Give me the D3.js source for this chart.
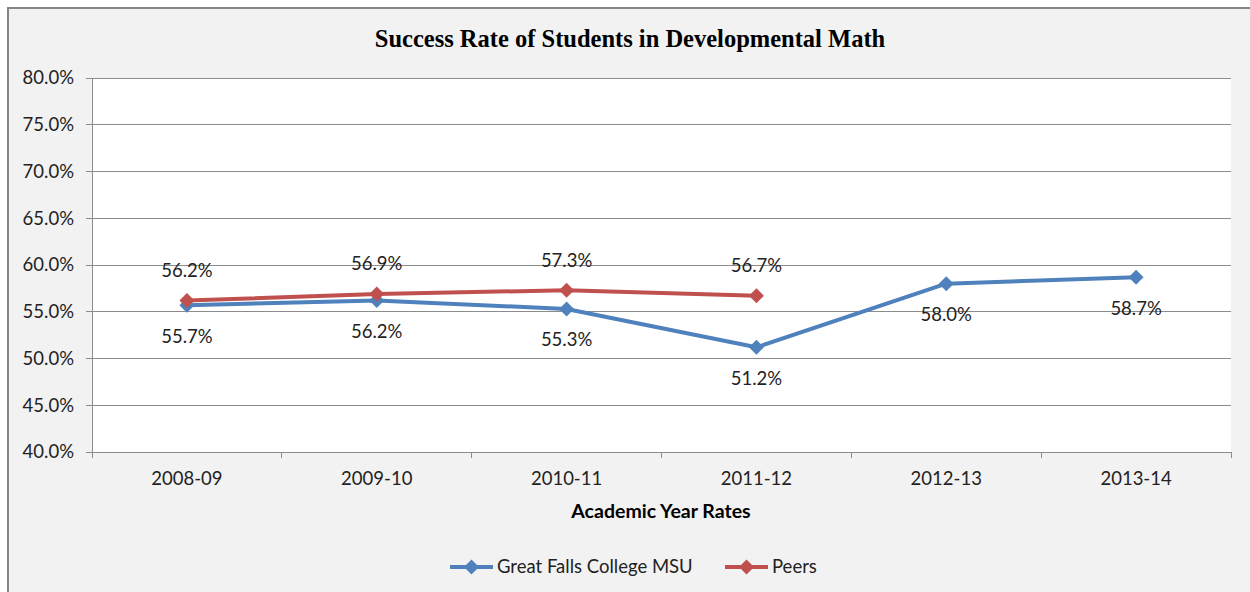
<!DOCTYPE html>
<html><head><meta charset="utf-8">
<script src="https://cdn.jsdelivr.net/npm/d3@7"></script>
<style>body{margin:0;background:#fff}svg{display:block}</style>
</head><body>
<script>
const categories = ["2008-09","2009-10","2010-11","2011-12","2012-13","2013-14"];
const gfcValues = [55.7, 56.2, 55.3, 51.2, 58.0, 58.7];
const peerValues = [56.2, 56.9, 57.3, 56.7, null, null];
const yTicks = [40,45,50,55,60,65,70,75,80];
const seriesNames = ["Great Falls College MSU","Peers"];
const colors = ["#4f81bd","#c0504d"];

const W=1250,H=592;
const svg=d3.select("body").append("svg").attr("width",W).attr("height",H);
svg.append("rect").attr("width",W).attr("height",H).attr("fill","#ffffff");
svg.append("rect").attr("x",8).attr("y",8).attr("width",W+20).attr("height",H+20)
  .attr("fill","#f2f2f2").attr("stroke","#868686").attr("stroke-width",2);

const L=92,R=1231,T=78,B=452;
const font="Lato, 'Open Sans', sans-serif";
const fs=18.5;
svg.append("rect").attr("x",L).attr("y",T).attr("width",R-L).attr("height",B-T).attr("fill","#fff");

const x=d3.scaleBand().domain(categories).range([L,R]);
const y=d3.scaleLinear().domain([40,80]).range([B,T]);

// gridlines
svg.append("g").selectAll("line").data(yTicks).join("line")
  .attr("x1",L-6).attr("x2",R).attr("y1",d=>y(d)).attr("y2",d=>y(d))
  .attr("stroke","#8c8c8c").attr("stroke-width",1).attr("shape-rendering","crispEdges");
svg.append("line").attr("x1",L).attr("x2",L).attr("y1",T).attr("y2",B+0.5)
  .attr("stroke","#8c8c8c").attr("shape-rendering","crispEdges");
svg.append("g").selectAll("text").data(yTicks).join("text")
  .attr("x",L-18).attr("y",d=>y(d)).attr("dy","0.35em").attr("text-anchor","end")
  .attr("font-family",font).attr("font-size",fs).attr("fill","#222")
  .text(d=>d.toFixed(1)+"%");
const bounds=categories.map(c=>x(c)).concat([R]);
svg.append("g").selectAll("line").data(bounds).join("line")
  .attr("x1",d=>d).attr("x2",d=>d).attr("y1",B).attr("y2",B+6)
  .attr("stroke","#8c8c8c").attr("shape-rendering","crispEdges");
svg.append("g").selectAll("text").data(categories).join("text")
  .attr("x",d=>x(d)+x.bandwidth()/2).attr("y",B+27).attr("dy","0.35em").attr("text-anchor","middle")
  .attr("font-family",font).attr("font-size",fs).attr("fill","#222").text(d=>d);

svg.append("text").attr("x",630).attr("y",38).attr("dy","0.35em").attr("text-anchor","middle")
  .attr("font-family","'Liberation Serif', 'Times New Roman', serif").attr("font-weight","bold")
  .attr("font-size",24.5).attr("fill","#000").text("Success Rate of Students in Developmental Math");
svg.append("text").attr("x",661).attr("y",511).attr("dy","0.35em").attr("text-anchor","middle")
  .attr("font-family",font).attr("font-weight","bold").attr("font-size",19.5).attr("fill","#000")
  .text("Academic Year Rates");

const series=[gfcValues,peerValues];
const dm="M0,-7.5L7.5,0L0,7.5L-7.5,0Z";
const line=d3.line().defined(d=>d.v!=null).x(d=>x(d.c)+x.bandwidth()/2).y(d=>y(d.v));
series.forEach((vals,i)=>{
  const pts=categories.map((c,j)=>({c,v:vals[j]}));
  svg.append("path").datum(pts).attr("d",line).attr("fill","none")
    .attr("stroke",colors[i]).attr("stroke-width",4).attr("stroke-linejoin","round");
  const valid=pts.filter(d=>d.v!=null);
  svg.append("g").selectAll("path").data(valid).join("path")
    .attr("d",dm).attr("fill",colors[i])
    .attr("transform",d=>`translate(${x(d.c)+x.bandwidth()/2},${y(d.v)})`);
  svg.append("g").selectAll("text").data(valid).join("text")
    .attr("x",d=>x(d.c)+x.bandwidth()/2).attr("y",d=>y(d.v)+(i===0?31:-30))
    .attr("dy","0.35em").attr("text-anchor","middle")
    .attr("font-family",font).attr("font-size",fs).attr("fill","#222")
    .text(d=>d.v.toFixed(1)+"%");
});

const legX=[450,725];
seriesNames.forEach((n,i)=>{
  const g=svg.append("g");
  g.append("line").attr("x1",legX[i]).attr("x2",legX[i]+43).attr("y1",567).attr("y2",567)
    .attr("stroke",colors[i]).attr("stroke-width",4);
  g.append("path").attr("d",dm).attr("fill",colors[i]).attr("transform",`translate(${legX[i]+21.5},567)`);
  g.append("text").attr("x",legX[i]+47).attr("y",567).attr("dy","0.35em")
    .attr("font-family",font).attr("font-size",fs).attr("fill","#222").text(n);
});
</script>
</body></html>
